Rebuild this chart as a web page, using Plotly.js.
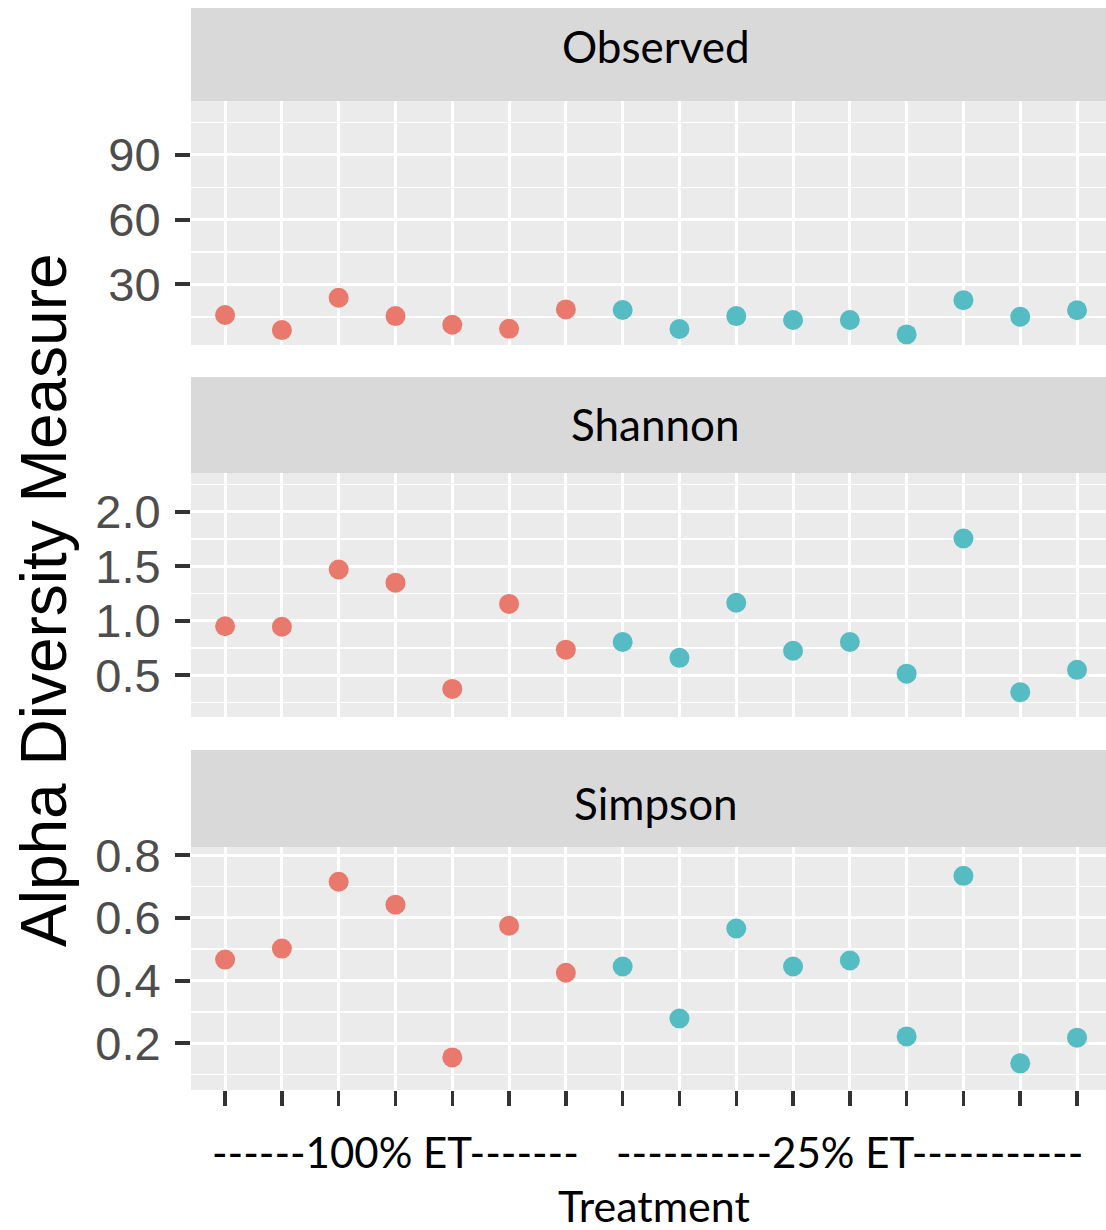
<!DOCTYPE html>
<html>
<head>
<meta charset="utf-8">
<script src="https://cdn.plot.ly/plotly-3.0.1.min.js"></script>
<style>html,body{margin:0;padding:0;background:#fff;}#chart{width:1106px;height:1230px;}</style>
</head>
<body>
<div id="chart"></div>
<script>
// ---- data ----
const samples = ['S1','S2','S3','S4','S5','S6','S7','S8','S9','S10','S11','S12','S13','S14','S15','S16'];
const treatment = ['100% ET','100% ET','100% ET','100% ET','100% ET','100% ET','100% ET',
                   '25% ET','25% ET','25% ET','25% ET','25% ET','25% ET','25% ET','25% ET','25% ET'];
const observed = [15.8, 8.8, 23.8, 15.3, 11.3, 9.4, 18.4, 18.1, 9.3, 15.3, 13.5, 13.5, 6.8, 22.7, 15.0, 18.0];
const shannon  = [0.95, 0.945, 1.47, 1.35, 0.375, 1.155, 0.735, 0.805, 0.66, 1.165, 0.725, 0.805, 0.515, 1.755, 0.345, 0.55];
const simpson  = [0.467, 0.502, 0.715, 0.642, 0.155, 0.575, 0.425, 0.445, 0.279, 0.566, 0.445, 0.464, 0.222, 0.734, 0.136, 0.218];
const measures = ['Observed', 'Shannon', 'Simpson'];
const groups = ['100% ET', '25% ET'];
const groupLabels = ['------100% ET-------', '----------25% ET-----------'];
const yTitle = 'Alpha Diversity Measure';
const xTitle = 'Treatment';

// ---- styling ----
const colors = {'100% ET': '#E8796C', '25% ET': '#55BCC3'};
const H = 1230;
const panelPx = [[101, 345], [473, 717], [847, 1090]];
const stripPx = [[8, 101], [377, 473], [750, 847]];
const stripTextY = [46, 424, 803];
const yRanges = [[1.9, 115], [0.117, 2.356], [0.051, 0.826]];
const yDtick = [30, 0.5, 0.2];
const yMinor = [15, 0.25, 0.1];
const yFmt = ['d', '.1f', '.1f'];
const calib = 'Lato, "Open Sans", sans-serif';
const arial = '"Liberation Sans", Arial, sans-serif';

const series = [observed, shannon, simpson];
const traces = [];
series.forEach((vals, p) => {
  groups.forEach(g => {
    const xs = [], ys = [];
    samples.forEach((s, i) => { if (treatment[i] === g) { xs.push(s); ys.push(vals[i]); } });
    traces.push({
      type: 'scatter', mode: 'markers', x: xs, y: ys,
      xaxis: p === 0 ? 'x' : 'x' + (p + 1), yaxis: p === 0 ? 'y' : 'y' + (p + 1),
      marker: {color: colors[g], size: 20, line: {width: 0}},
      showlegend: false, hoverinfo: 'x+y'
    });
  });
});

const frac = px => 1 - px / H;
const layout = {
  width: 1106, height: 1230,
  margin: {l: 191, r: 0, t: 0, b: 0},
  paper_bgcolor: '#FFFFFF', plot_bgcolor: '#EBEBEB',
  showlegend: false,
  shapes: [], annotations: []
};
for (let p = 0; p < 3; p++) {
  const xk = p === 0 ? 'xaxis' : 'xaxis' + (p + 1);
  const yk = p === 0 ? 'yaxis' : 'yaxis' + (p + 1);
  const ya = p === 0 ? 'y' : 'y' + (p + 1);
  const bottom = p === 2;
  layout[xk] = {
    type: 'category', categoryorder: 'array', categoryarray: samples,
    anchor: ya, domain: [0, 1], range: [-0.6, 15.51],
    tickmode: 'array', tickvals: samples, showticklabels: false,
    ticks: bottom ? 'outside' : '', ticklen: 15, tickwidth: 3.5, tickcolor: '#333333',
    showgrid: true, gridcolor: '#FFFFFF', gridwidth: 3, zeroline: false, showline: false,
    fixedrange: true
  };
  layout[yk] = {
    anchor: p === 0 ? 'x' : 'x' + (p + 1),
    domain: [frac(panelPx[p][1]), frac(panelPx[p][0])],
    range: yRanges[p], tickmode: 'linear', tick0: 0, dtick: yDtick[p], tickformat: yFmt[p],
    ticks: 'outside', ticklen: 15, tickwidth: 4, tickcolor: '#333333',
    tickfont: {family: arial, size: 47, color: '#4D4D4D'}, ticklabelstandoff: 5,
    showgrid: true, gridcolor: '#FFFFFF', gridwidth: 3, zeroline: false, showline: false,
    minor: {dtick: yMinor[p], tick0: 0, showgrid: true, gridcolor: '#FFFFFF', gridwidth: 1.6, ticks: ''},
    fixedrange: true
  };
  layout.shapes.push({
    type: 'rect', xref: 'paper', yref: 'paper', x0: 0, x1: 1.02,
    y0: frac(stripPx[p][1]), y1: frac(stripPx[p][0]),
    fillcolor: '#D9D9D9', line: {width: 0}, layer: 'below'
  });
  layout.annotations.push({
    text: measures[p], xref: 'paper', yref: 'paper', x: 0.508, y: frac(stripTextY[p]),
    xanchor: 'center', yanchor: 'middle', showarrow: false,
    font: {family: calib, size: 44, color: '#000000'}
  });
}
// group labels centred under their samples
groups.forEach((g, k) => {
  const idx = samples.map((s, i) => i).filter(i => treatment[i] === g);
  const mid = (idx[0] + idx[idx.length - 1]) / 2;
  layout.annotations.push({
    text: groupLabels[k], xref: 'x3', yref: 'paper', x: mid, y: frac(1152),
    xanchor: 'center', yanchor: 'middle', showarrow: false,
    font: {family: calib, size: 42, color: '#000000'}
  });
});
layout.annotations.push({
  text: xTitle, xref: 'paper', yref: 'paper', x: (654 - 191) / 915, y: frac(1205),
  xanchor: 'center', yanchor: 'middle', showarrow: false,
  font: {family: calib, size: 43, color: '#000000'}
});
layout.annotations.push({
  text: yTitle, xref: 'paper', yref: 'paper', x: (44 - 191) / 915, y: frac(600),
  xanchor: 'center', yanchor: 'middle', textangle: -90, showarrow: false,
  font: {family: arial, size: 64, color: '#000000'}
});

Plotly.newPlot('chart', traces, layout, {displayModeBar: false, staticPlot: true});
</script>
</body>
</html>
